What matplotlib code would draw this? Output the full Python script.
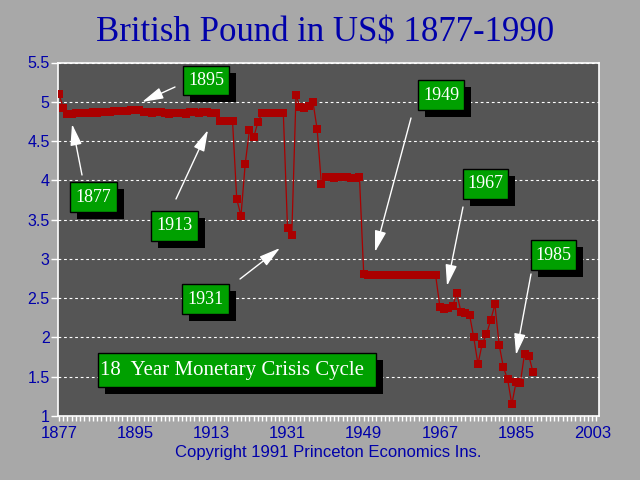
"""British Pound in US$ 1877-1990 -- old style monetary crisis chart."""
import matplotlib
matplotlib.use('Agg')
import matplotlib.pyplot as plt
from matplotlib.patches import Rectangle
from matplotlib.ticker import FuncFormatter

BG = '#A8A8A8'
PANEL = '#555555'
BLUE = '#0000AA'
RED = '#AA0000'
GREEN = '#00A000'

years = list(range(1877, 1990))
gbp_usd = [
    5.10, 4.92, 4.85, 4.85, 4.86, 4.86, 4.86, 4.86, 4.87, 4.86,   # 1877-1886
    4.87, 4.87, 4.87, 4.88, 4.88, 4.88, 4.88, 4.89, 4.90, 4.89,   # 1887-1896
    4.87, 4.87, 4.86, 4.87, 4.87, 4.86, 4.85, 4.86, 4.86, 4.86,   # 1897-1906
    4.85, 4.87, 4.87, 4.86, 4.87, 4.87, 4.86, 4.86, 4.76, 4.76,   # 1907-1916
    4.76, 4.76, 3.76, 3.55, 4.21, 4.64, 4.55, 4.74, 4.86, 4.86,   # 1917-1926
    4.86, 4.86, 4.86, 4.86, 3.39, 3.30, 5.08, 4.93, 4.92, 4.94,   # 1927-1936
    5.00, 4.65, 3.95, 4.04, 4.04, 4.03, 4.04, 4.04, 4.04, 4.03,   # 1937-1946
    4.03, 4.04, 2.81, 2.80, 2.80, 2.79, 2.80, 2.80, 2.79, 2.80,   # 1947-1956
    2.80, 2.80, 2.80, 2.79, 2.80, 2.80, 2.79, 2.79, 2.79, 2.79,   # 1957-1966
    2.39, 2.36, 2.38, 2.40, 2.56, 2.32, 2.31, 2.29, 2.00, 1.66,   # 1967-1976
    1.92, 2.04, 2.22, 2.42, 1.91, 1.62, 1.47, 1.15, 1.43, 1.42,   # 1977-1986
    1.79, 1.77, 1.56,                                             # 1987-1989
]

x_ticks = list(range(1877, 2004, 18))
y_ticks = [1, 1.5, 2, 2.5, 3, 3.5, 4, 4.5, 5, 5.5]

# (label, box left/top/right/bottom px, arrow tail px, arrow tip px)
notes = [
    ('1877', (70, 182, 117, 212), (82, 175), (72, 124)),
    ('1895', (183, 66, 229, 95), (175, 87), (142, 102)),
    ('1913', (151, 211, 198, 241), (176, 199), (208, 130)),
    ('1931', (182, 284, 229, 314), (240, 279), (280, 248)),
    ('1949', (418, 80, 464, 110), (411, 118), (375, 252)),
    ('1967', (463, 169, 508, 199), (463, 207), (447, 286)),
    ('1985', (531, 240, 576, 270), (531, 274), (516, 355)),
]

W, H = 640, 480


def fx(px):
    return px / W


def fy(py):
    return 1 - py / H


def green_box(fig, box, text, size, ha='center'):
    x0, y0, x1, y1 = box
    shadow = Rectangle((fx(x0 + 7), fy(y1 + 7)), fx(x1 - x0), (y1 - y0) / H,
                       transform=fig.transFigure, facecolor='black', edgecolor='none', zorder=5)
    body = Rectangle((fx(x0), fy(y1)), fx(x1 - x0), (y1 - y0) / H,
                     transform=fig.transFigure, facecolor=GREEN, edgecolor='black', lw=1, zorder=6)
    fig.add_artist(shadow)
    fig.add_artist(body)
    tx = fx((x0 + x1) / 2) if ha == 'center' else fx(x0 + 2)
    fig.text(tx, fy((y0 + y1) / 2), text, ha=ha, va='center', color='white',
             fontsize=size, family='Liberation Serif', zorder=7)


fig = plt.figure(figsize=(6.4, 4.8), dpi=100, facecolor=BG)
ax = fig.add_axes([fx(58), fy(416), fx(599 - 58), (416 - 62.5) / H], facecolor=PANEL)

ax.plot(years, gbp_usd, color=RED, lw=0.9, marker='s', markersize=5.2,
        markeredgewidth=0, zorder=3)

ax.set_xlim(1876.76, 2004.6)
ax.set_ylim(1, 5.5)
ax.set_xticks(x_ticks)
ax.set_xticks(range(1877, 2005), minor=True)
ax.set_yticks(y_ticks)
ax.yaxis.set_major_formatter(FuncFormatter(lambda v, _: f'{v:g}'))
ax.yaxis.grid(True, color='white', linestyle=(0, (2.5, 2.5)), lw=0.8, zorder=1)
ax.set_axisbelow(True)

for s in ax.spines.values():
    s.set_color('white')
    s.set_linewidth(1.2)

ax.tick_params(axis='x', which='both', direction='out', length=3.5, width=1,
               color='white', labelcolor=BLUE, labelsize=12, pad=4)
ax.tick_params(axis='y', which='major', direction='out', length=5, width=1,
               color='white', labelcolor=BLUE, labelsize=11.5, pad=1)
for lbl in ax.get_xticklabels() + ax.get_yticklabels():
    lbl.set_family('Liberation Sans')

fig.text(fx(325), fy(33), 'British Pound in US$ 1877-1990', ha='center', va='center',
         color=BLUE, fontsize=25, family='Liberation Serif')
fig.text(fx(328), fy(453), 'Copyright 1991 Princeton Economics Ins.', ha='center',
         va='center', color=BLUE, fontsize=12, family='Liberation Sans')

for label, box, tail, tip in notes:
    ax.annotate('', xy=(tip[0], H - tip[1]), xytext=(tail[0], H - tail[1]),
                xycoords='figure pixels', textcoords='figure pixels',
                arrowprops=dict(arrowstyle='-|>,head_length=1.3,head_width=0.35',
                                color='white', lw=1, shrinkA=0, shrinkB=0),
                zorder=4)
    green_box(fig, box, label, 13)

green_box(fig, (98, 353, 376, 387), '18  Year Monetary Crisis Cycle', 15, ha='left')

fig.savefig('out.png', dpi=100, facecolor=BG)
